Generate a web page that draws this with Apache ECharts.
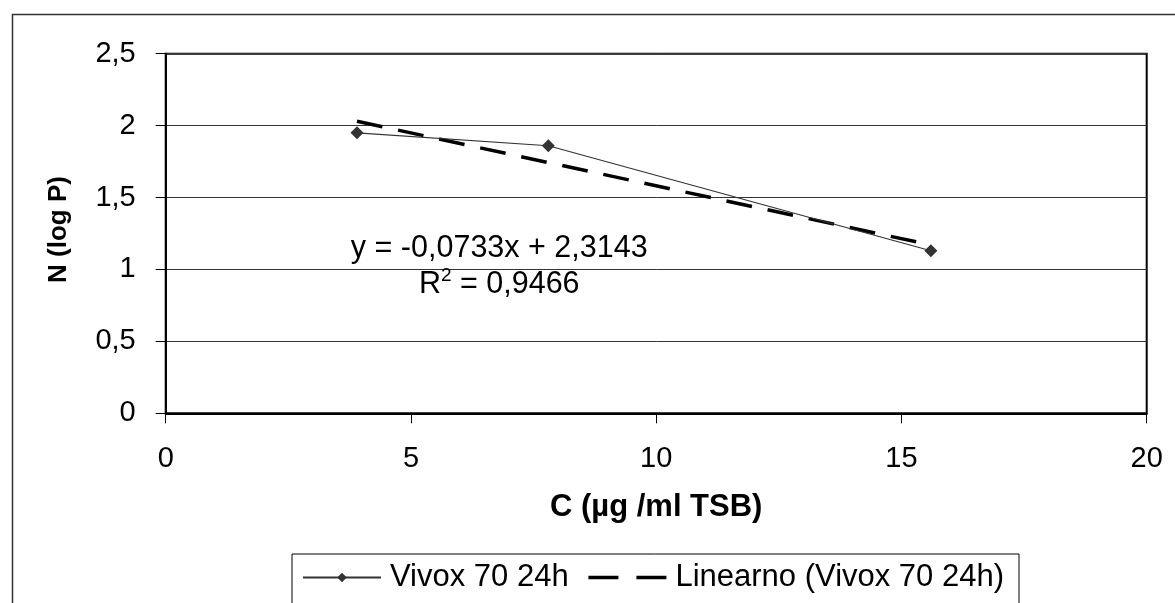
<!DOCTYPE html>
<html><head><meta charset="utf-8">
<script src="https://cdn.jsdelivr.net/npm/echarts@6/dist/echarts.min.js"></script>
<style>html,body{margin:0;padding:0;background:#fff}#c{width:1175px;height:603px}</style>
</head><body><div id="c"></div>
<script>
const concentrations = [3.9, 7.8, 15.6];
const logP = [1.95, 1.86, 1.13];
const trendX = [3.9, 15.6];
const trendY = [2.03, 1.17];
const xRange = [0, 20, 5];
const yRange = [0, 2.5, 0.5];
const seriesName = 'Vivox 70 24h';
const trendName = 'Linearno (Vivox 70 24h)';
const xTitle = 'C (µg /ml TSB)';
const yTitle = 'N (log P)';
const equationText = 'y = -0,0733x + 2,3143';
const r2Value = '0,9466';
const annotationAt = [6.8, 1.02];

const FONT = 'Liberation Sans, Arial, sans-serif';
const chart = echarts.init(document.getElementById('c'));
const fmt = v => String(v).replace('.', ',');

chart.setOption({
  backgroundColor: '#fff',
  animation: false,
  grid: { left: 165.7, top: 53.7, right: 28.3, bottom: 189.7, show: true, borderColor: '#000', borderWidth: 2 },
  xAxis: {
    type: 'value', min: xRange[0], max: xRange[1], interval: xRange[2],
    name: xTitle, nameLocation: 'middle', nameGap: 79,
    nameTextStyle: { fontFamily: FONT, fontSize: 31, fontWeight: 'bold', color: '#000' },
    axisLine: { lineStyle: { color: '#000', width: 2 } },
    axisTick: { show: true, inside: false, length: 10, lineStyle: { color: '#000', width: 1 } },
    axisLabel: { fontFamily: FONT, fontSize: 29, color: '#000', margin: 31 },
    splitLine: { show: false }
  },
  yAxis: {
    type: 'value', min: yRange[0], max: yRange[1], interval: yRange[2],
    name: yTitle, nameLocation: 'middle', nameGap: 94, nameRotate: 90,
    nameTextStyle: { fontFamily: FONT, fontSize: 26, fontWeight: 'bold', color: '#000', padding: [0, 0, 0, 8] },
    axisLine: { show: true, lineStyle: { color: '#000', width: 2 } },
    axisTick: { show: true, inside: false, length: 10, lineStyle: { color: '#000', width: 1 } },
    axisLabel: { fontFamily: FONT, fontSize: 29, color: '#000', margin: 30, formatter: fmt },
    splitLine: { show: true, lineStyle: { color: '#333', width: 1 } }
  },
  legend: {
    left: 292, top: 554,
    padding: [8, 15, 20, 10],
    borderColor: '#000', borderWidth: 1,
    itemWidth: 78, itemHeight: 12, itemGap: 18,
    textStyle: { fontFamily: FONT, fontSize: 31, color: '#000', padding: [0, 0, 0, 4] },
    data: [
      { name: seriesName },
      { name: trendName, itemStyle: { opacity: 0 }, lineStyle: { width: 3.5, type: [30, 18], color: '#000' } }
    ]
  },
  series: [
    {
      name: seriesName, type: 'line',
      data: concentrations.map((x, i) => [x, logP[i]]),
      symbol: 'diamond', symbolSize: 13,
      itemStyle: { color: '#333' },
      lineStyle: { color: '#333', width: 1.2 },
      z: 3
    },
    {
      name: trendName, type: 'line',
      data: trendX.map((x, i) => [x, trendY[i]]),
      symbol: 'none',
      itemStyle: { color: '#000' },
      lineStyle: { color: '#000', width: 3.5, type: [26, 16] },
      z: 2
    }
  ]
});

const p = chart.convertToPixel({ gridIndex: 0 }, annotationAt);
chart.setOption({
  graphic: [
    {
      type: 'rect', left: 10, top: 12, shape: { width: 1200, height: 650 },
      style: { fill: 'none', stroke: '#333', lineWidth: 1.5 }, silent: true, z: -1
    },
    {
      type: 'text', x: p[0], y: p[1],
      style: {
        text: equationText + '\n{n|R}{s|2}{n| = ' + r2Value + '}',
        align: 'center', verticalAlign: 'middle',
        fontFamily: FONT, fontSize: 30.5, fill: '#000', lineHeight: 36,
        rich: {
          n: { fontFamily: FONT, fontSize: 30.5, fill: '#000', lineHeight: 36 },
          s: { fontFamily: FONT, fontSize: 19, fill: '#000', verticalAlign: 'top', lineHeight: 36, padding: [0, 0, 14, 0] }
        }
      }
    }
  ]
});
</script>
</body></html>
